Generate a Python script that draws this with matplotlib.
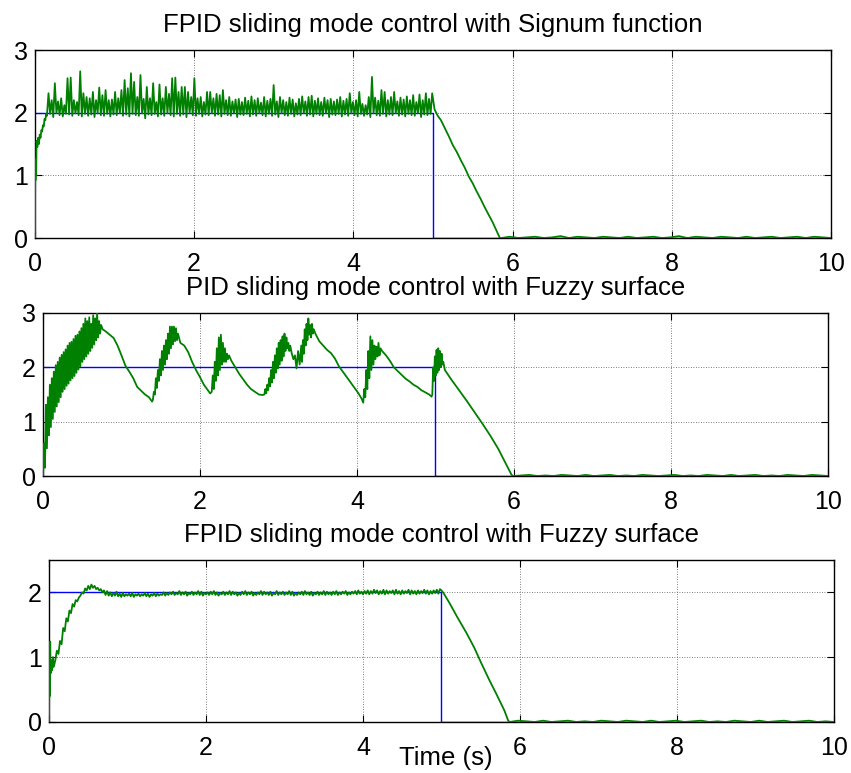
import numpy as np
import matplotlib
matplotlib.use("Agg")
import matplotlib.pyplot as plt

plt.rcParams["font.family"] = ["Liberation Sans", "DejaVu Sans"]

# reference (blue) signal, same in every panel
ref_t = [0, 5, 5, 10]
ref_y = [2, 2, 0, 0]

titles = ["FPID sliding mode control with Signum function",
          "PID sliding mode control with Fuzzy surface",
          "FPID sliding mode control with Fuzzy surface"]

# ---------- panel 1: FPID + signum ----------
p1_rise_t = [0.0, 0.003, 0.006, 0.01, 0.015, 0.02, 0.03, 0.04, 0.05, 0.06, 0.07, 0.08,
             0.09, 0.10, 0.11, 0.12, 0.13, 0.14]
p1_rise_y = [0.0, 1.2, 0.92, 1.25, 1.0, 1.55, 1.45, 1.6, 1.5, 1.65, 1.6, 1.72,
             1.7, 1.8, 1.78, 1.9, 1.88, 1.98]
p1_chat_span = (0.15, 4.99)
p1_peaks = [2.31, 2.20, 2.47, 2.18, 2.23, 2.12, 2.55, 2.56, 2.20, 2.17,
            2.66, 2.31, 2.25, 2.23, 2.33, 2.20, 2.40, 2.28, 2.36, 2.20,
            2.21, 2.33, 2.23, 2.36, 2.52, 2.39, 2.63, 2.49, 2.25, 2.60,
            2.22, 2.41, 2.23, 2.47, 2.17, 2.45, 2.23, 2.41, 2.30, 2.55,
            2.56, 2.33, 2.41, 2.41, 2.33, 2.25, 2.55, 2.23, 2.25, 2.17,
            2.33, 2.33, 2.23, 2.30, 2.28, 2.36, 2.20, 2.25, 2.18, 2.21,
            2.22, 2.17, 2.24, 2.19, 2.26, 2.20, 2.23, 2.16, 2.25, 2.19,
            2.22, 2.44, 2.18, 2.25, 2.20, 2.17, 2.24, 2.21, 2.15, 2.22,
            2.26, 2.18, 2.25, 2.27, 2.19, 2.23, 2.17, 2.24, 2.20, 2.22,
            2.18, 2.21, 2.25, 2.19, 2.22, 2.31, 2.17, 2.20, 2.33, 2.14,
            2.12, 2.25, 2.57, 2.24, 2.19, 2.36, 2.33, 2.20, 2.25, 2.33,
            2.18, 2.24, 2.21, 2.26, 2.20, 2.28, 2.17, 2.29, 2.20, 2.31,
            2.22, 2.31]
p1_lows = [1.95, 1.98, 1.93, 1.99, 1.96, 1.94, 1.98, 1.97, 1.95, 1.99,
           1.96, 1.94, 1.98, 1.95, 1.97, 1.93, 1.99, 1.96, 1.95, 1.98,
           1.94, 1.97, 1.96, 1.99, 1.95, 1.97, 1.94, 1.98, 1.96, 1.95,
           1.99, 1.91, 1.97, 1.96, 1.98, 1.94, 1.97, 1.95, 1.99, 1.96,
           1.94, 1.98, 1.95, 1.97, 1.93, 1.99, 1.96, 1.95, 1.98, 1.94,
           1.97, 1.96, 1.99, 1.95, 1.97, 1.94, 1.98, 1.96, 1.95, 1.99,
           1.93, 1.97, 1.96, 1.98, 1.94, 1.97, 1.95, 1.99, 1.96, 1.94,
           1.98, 1.95, 1.97, 1.93, 1.99, 1.96, 1.95, 1.98, 1.94, 1.97,
           1.96, 1.99, 1.95, 1.97, 1.94, 1.98, 1.96, 1.95, 1.99, 1.93,
           1.97, 1.96, 1.98, 1.94, 1.97, 1.95, 1.99, 1.96, 1.94, 1.98,
           1.95, 1.97, 1.93, 1.99, 1.96, 1.95, 1.98, 1.94, 1.97, 1.96,
           1.99, 1.95, 1.97, 1.94, 1.98, 1.96, 1.95, 1.99, 1.93, 1.97,
           1.96, 1.98]
p1_fall_t = [5.02, 5.06, 5.10, 5.15, 5.20, 5.25, 5.30, 5.35, 5.40, 5.45, 5.50,
             5.55, 5.60, 5.65, 5.70, 5.75, 5.80, 5.84]
p1_fall_y = [2.05, 1.95, 1.88, 1.75, 1.62, 1.48, 1.37, 1.24, 1.12, 0.98, 0.87,
             0.74, 0.62, 0.49, 0.37, 0.25, 0.11, 0.0]
p1_tail_span = (5.86, 10.0)
p1_tail = [0.0, 0.02, 0.0, 0.01, 0.02, 0.0, 0.01, 0.03, 0.0, 0.02, 0.01, 0.0, 0.02, 0.01,
           0.0, 0.02, 0.0, 0.01, 0.02, 0.0, 0.01, 0.03, 0.0, 0.02, 0.01, 0.0, 0.02, 0.01,
           0.0, 0.02, 0.0, 0.01, 0.02, 0.0, 0.01, 0.02, 0.0, 0.02, 0.01, 0.0]

# ---------- panel 2: PID + fuzzy surface ----------
p2_a_span = (0.0, 0.74)
p2_a_lows = [0.00, 0.15, 0.51, 0.75, 0.90, 1.05, 1.18, 1.28, 1.36, 1.45,
             1.55, 1.60, 1.66, 1.70, 1.76, 1.80, 1.84, 1.90, 1.96, 2.02,
             2.10, 2.15, 2.20, 2.25, 2.30, 2.36, 2.42, 2.50, 2.55, 2.62]
p2_a_peaks = [0.60, 1.31, 1.45, 1.68, 1.80, 1.92, 2.04, 2.10, 2.18, 2.23,
              2.28, 2.33, 2.40, 2.45, 2.47, 2.52, 2.58, 2.60, 2.66, 2.72,
              2.80, 2.90, 2.85, 2.92, 2.80, 2.96, 2.90, 3.00, 2.85, 2.78]
p2_b_t = [0.76, 0.80, 0.85, 0.90, 0.95, 1.00, 1.05, 1.10, 1.15, 1.20, 1.25, 1.30, 1.35, 1.39]
p2_b_y = [2.70, 2.66, 2.60, 2.54, 2.40, 2.22, 2.03, 1.92, 1.80, 1.64, 1.57, 1.50, 1.45, 1.37]
p2_c_span = (1.40, 1.72)
p2_c_lows = [1.40, 1.50, 1.62, 1.75, 1.85, 1.95, 2.05, 2.15, 2.25, 2.35, 2.42, 2.48, 2.50]
p2_c_peaks = [1.55, 1.80, 1.95, 2.15, 2.30, 2.40, 2.50, 2.62, 2.75, 2.75, 2.75, 2.72, 2.62]
p2_d_t = [1.75, 1.80, 1.85, 1.90, 1.95, 2.00, 2.05, 2.10, 2.13]
p2_d_y = [2.45, 2.40, 2.28, 2.10, 1.95, 1.82, 1.68, 1.58, 1.52]
p2_e_span = (2.15, 2.37)
p2_e_lows = [1.55, 1.60, 1.75, 1.85, 1.95, 2.05, 2.10, 2.10, 2.15]
p2_e_peaks = [1.85, 2.10, 2.35, 2.55, 2.60, 2.45, 2.35, 2.25, 2.22]
p2_f_t = [2.40, 2.45, 2.50, 2.55, 2.60, 2.65, 2.70, 2.75, 2.80]
p2_f_y = [2.12, 2.00, 1.88, 1.78, 1.68, 1.60, 1.55, 1.50, 1.49]
p2_g_span = (2.82, 3.15)
p2_g_lows = [1.50, 1.52, 1.58, 1.65, 1.72, 1.80, 1.90, 1.98, 2.05, 2.12, 2.20, 2.30, 2.35, 2.30]
p2_g_peaks = [1.60, 1.68, 1.80, 1.95, 2.10, 2.22, 2.35, 2.45, 2.50, 2.57, 2.62, 2.55, 2.45, 2.40]
p2_h_t = [3.17, 3.19, 3.21, 3.23, 3.25, 3.27, 3.29]
p2_h_y = [2.25, 2.15, 2.22, 1.98, 2.30, 2.05, 2.40]
p2_i_span = (3.30, 3.45)
p2_i_lows = [2.10, 2.25, 2.40, 2.50, 2.60, 2.55, 2.62]
p2_i_peaks = [2.50, 2.70, 2.80, 2.90, 2.78, 2.80, 2.70]
p2_j_t = [3.47, 3.52, 3.57, 3.62, 3.67, 3.72, 3.77, 3.82, 3.87, 3.92, 3.97, 4.02, 4.06]
p2_j_y = [2.62, 2.48, 2.40, 2.32, 2.26, 2.16, 2.02, 1.92, 1.82, 1.72, 1.62, 1.52, 1.42]
p2_k_span = (4.08, 4.30)
p2_k_lows = [1.35, 1.45, 1.60, 1.80, 1.95, 2.05, 2.15, 2.20, 2.22]
p2_k_peaks = [1.60, 1.95, 2.30, 2.57, 2.50, 2.40, 2.38, 2.45, 2.35]
p2_l_t = [4.32, 4.37, 4.42, 4.47, 4.52, 4.57, 4.62, 4.67, 4.72, 4.77, 4.82, 4.87, 4.92, 4.95]
p2_l_y = [2.30, 2.22, 2.12, 2.00, 1.93, 1.86, 1.79, 1.74, 1.68, 1.64, 1.58, 1.54, 1.50, 1.46]
p2_m_span = (4.96, 5.10)
p2_m_lows = [1.50, 1.75, 1.85, 1.90, 1.95, 2.00, 2.05]
p2_m_peaks = [2.00, 2.20, 2.32, 2.35, 2.30, 2.25, 2.10]
p2_n_t = [5.12, 5.20, 5.30, 5.40, 5.50, 5.60, 5.70, 5.80, 5.90, 5.97]
p2_n_y = [1.95, 1.78, 1.58, 1.38, 1.17, 0.96, 0.74, 0.50, 0.22, 0.02]
p2_tail_span = (5.99, 10.0)
p2_tail = [0.0, 0.01, 0.02, 0.0, 0.01, 0.0, 0.02, 0.01, 0.0, 0.02, 0.0, 0.01, 0.02, 0.0,
           0.01, 0.0, 0.02, 0.01, 0.0, 0.01, 0.02, 0.0, 0.01, 0.0, 0.02, 0.01, 0.0, 0.02,
           0.0, 0.01, 0.02, 0.0, 0.01, 0.0, 0.02, 0.01, 0.0, 0.02, 0.01, 0.0]

# ---------- panel 3: FPID + fuzzy surface ----------
p3_rise_t = [0.0, 0.005, 0.01, 0.015, 0.02, 0.03, 0.04, 0.05, 0.06, 0.08, 0.10, 0.12,
             0.14, 0.16, 0.18, 0.20, 0.22, 0.24, 0.26, 0.28, 0.30, 0.32, 0.34, 0.36,
             0.38, 0.40, 0.42, 0.44, 0.46, 0.48, 0.50, 0.52, 0.54, 0.56, 0.58, 0.60,
             0.62, 0.64, 0.66, 0.68, 0.70]
p3_rise_y = [0.0, 0.9, 0.4, 1.24, 0.75, 0.95, 0.80, 1.0, 0.85, 0.95, 1.10, 1.05,
             1.25, 1.20, 1.45, 1.40, 1.60, 1.55, 1.72, 1.68, 1.82, 1.78, 1.88, 1.86,
             1.92, 1.95, 2.0, 1.98, 2.06, 2.03, 2.10, 2.05, 2.12, 2.07, 2.10, 2.05,
             2.07, 2.03, 2.05, 2.00, 2.03]
p3_chat_span = (0.72, 4.98)
p3_peaks = [2.02, 2.00, 1.99, 2.01, 1.98, 1.99, 1.97, 1.98, 1.99, 1.97,
            1.98, 1.97, 1.99, 1.98, 1.97, 1.99, 1.98, 1.97, 2.00, 1.99,
            2.00, 2.01, 1.99, 2.02, 2.00, 2.01, 1.99, 2.01, 2.00, 2.02,
            2.01, 1.99, 2.00, 2.01, 2.02, 2.00, 1.99, 2.01, 2.00, 2.02,
            2.01, 2.00, 1.99, 2.01, 2.02, 2.00, 2.01, 1.99, 2.00, 2.02,
            2.01, 2.00, 2.01, 1.99, 2.02, 2.00, 2.01, 2.00, 2.02, 2.01,
            1.99, 2.00, 2.01, 2.02, 2.00, 2.01, 1.99, 2.01, 2.00, 2.02,
            2.01, 2.00, 2.01, 2.02, 2.00, 2.01, 2.02, 2.00, 2.01, 2.02,
            2.03, 2.01, 2.02,
            2.03, 2.02, 2.04, 2.03, 2.02, 2.04, 2.03, 2.02, 2.03, 2.04,
            2.02, 2.03, 2.02, 2.04, 2.03, 2.02, 2.03, 2.02, 2.04, 2.03,
            2.02, 2.03, 2.04, 2.05]
p3_lows = [1.96, 1.95, 1.94, 1.95, 1.94, 1.93, 1.94, 1.95, 1.94, 1.93,
           1.95, 1.94, 1.95, 1.94, 1.93, 1.95, 1.94, 1.95, 1.96, 1.95,
           1.96, 1.97, 1.96, 1.97, 1.96, 1.97, 1.95, 1.97, 1.96, 1.97,
           1.96, 1.95, 1.97, 1.96, 1.97, 1.96, 1.95, 1.97, 1.96, 1.97,
           1.96, 1.97, 1.95, 1.96, 1.97, 1.96, 1.97, 1.95, 1.96, 1.97,
           1.96, 1.97, 1.96, 1.95, 1.97, 1.96, 1.97, 1.96, 1.97, 1.96,
           1.95, 1.96, 1.97, 1.96, 1.97, 1.96, 1.95, 1.97, 1.96, 1.97,
           1.96, 1.97, 1.96, 1.97, 1.96, 1.97, 1.98, 1.96, 1.97, 1.98,
           1.97, 1.98, 1.97,
           1.98, 1.97, 1.98, 1.99, 1.97, 1.98, 1.97, 1.98, 1.99, 1.97,
           1.98, 1.97, 1.98, 1.99, 1.97, 1.98, 1.97, 1.98, 1.99, 1.98,
           1.97, 1.98, 1.99, 1.98]
p3_fall_t = [4.99, 5.02, 5.10, 5.20, 5.32, 5.42, 5.51, 5.60, 5.70, 5.80, 5.85]
p3_fall_y = [2.04, 2.00, 1.84, 1.62, 1.37, 1.14, 0.90, 0.67, 0.43, 0.18, 0.02]
p3_tail_span = (5.87, 10.0)
p3_tail = [0.0, 0.02, 0.01, 0.0, 0.02, 0.0, 0.01, 0.02, 0.0, 0.01, 0.0, 0.02, 0.01, 0.0,
           0.02, 0.01, 0.0, 0.02, 0.0, 0.01, 0.02, 0.0, 0.01, 0.02, 0.0, 0.01, 0.0, 0.02,
           0.01, 0.0, 0.02, 0.0, 0.01, 0.02, 0.0, 0.01, 0.02, 0.0, 0.01, 0.0]


def chatter(span, lows, peaks):
    n = min(len(lows), len(peaks))
    t = np.linspace(span[0], span[1], 2 * n)
    y = np.empty(2 * n)
    y[0::2] = lows[:n]
    y[1::2] = peaks[:n]
    return t, y


def spread(span, vals):
    return np.linspace(span[0], span[1], len(vals)), np.asarray(vals)


def join(parts):
    return (np.concatenate([np.asarray(p[0], float) for p in parts]),
            np.concatenate([np.asarray(p[1], float) for p in parts]))


green1 = join([(p1_rise_t, p1_rise_y), chatter(p1_chat_span, p1_lows, p1_peaks),
               (p1_fall_t, p1_fall_y), spread(p1_tail_span, p1_tail)])
green2 = join([chatter(p2_a_span, p2_a_lows, p2_a_peaks), (p2_b_t, p2_b_y),
               chatter(p2_c_span, p2_c_lows, p2_c_peaks), (p2_d_t, p2_d_y),
               chatter(p2_e_span, p2_e_lows, p2_e_peaks), (p2_f_t, p2_f_y),
               chatter(p2_g_span, p2_g_lows, p2_g_peaks), (p2_h_t, p2_h_y),
               chatter(p2_i_span, p2_i_lows, p2_i_peaks), (p2_j_t, p2_j_y),
               chatter(p2_k_span, p2_k_lows, p2_k_peaks), (p2_l_t, p2_l_y),
               chatter(p2_m_span, p2_m_lows, p2_m_peaks), (p2_n_t, p2_n_y),
               spread(p2_tail_span, p2_tail)])
green3 = join([(p3_rise_t, p3_rise_y), chatter(p3_chat_span, p3_lows, p3_peaks),
               (p3_fall_t, p3_fall_y), spread(p3_tail_span, p3_tail)])

fig = plt.figure(figsize=(8.51, 7.73), dpi=100)
boxes = [[0.0411, 0.6921, 0.9354, 0.2432],
         [0.0505, 0.3842, 0.9224, 0.2109],
         [0.0576, 0.0660, 0.9224, 0.2096]]
ylims = [(0, 3), (0, 3), (0, 2.5)]
yticks = [[0, 1, 2, 3], [0, 1, 2, 3], [0, 1, 2]]

for box, green, title, yl, yt in zip(boxes, [green1, green2, green3], titles, ylims, yticks):
    ax = fig.add_axes(box)
    ax.plot(ref_t, ref_y, color="#0000ff", lw=1.0, zorder=2)
    ax.plot(green[0], green[1], color="#008000", lw=1.3, zorder=3)
    ax.set_xlim(0, 10)
    ax.set_ylim(*yl)
    ax.set_xticks([0, 2, 4, 6, 8, 10])
    ax.set_yticks(yt)
    ax.grid(True, color="#555555", ls=(0, (1, 2)), lw=0.6)
    ax.set_axisbelow(True)
    ax.tick_params(direction="in", top=True, right=True, length=5, width=0.8,
                   labelsize=18, colors="black")
    ax.tick_params(axis="x", pad=10)
    ax.tick_params(axis="y", pad=5)
    for s in ax.spines.values():
        s.set_linewidth(1.0)
    ax.set_title(title, fontsize=18.5, pad=13)

fig.text(446 / 851, 1 - 758 / 773, "Time (s)", fontsize=18.5, ha="center", va="center")
fig.savefig("out.png", dpi=100)
